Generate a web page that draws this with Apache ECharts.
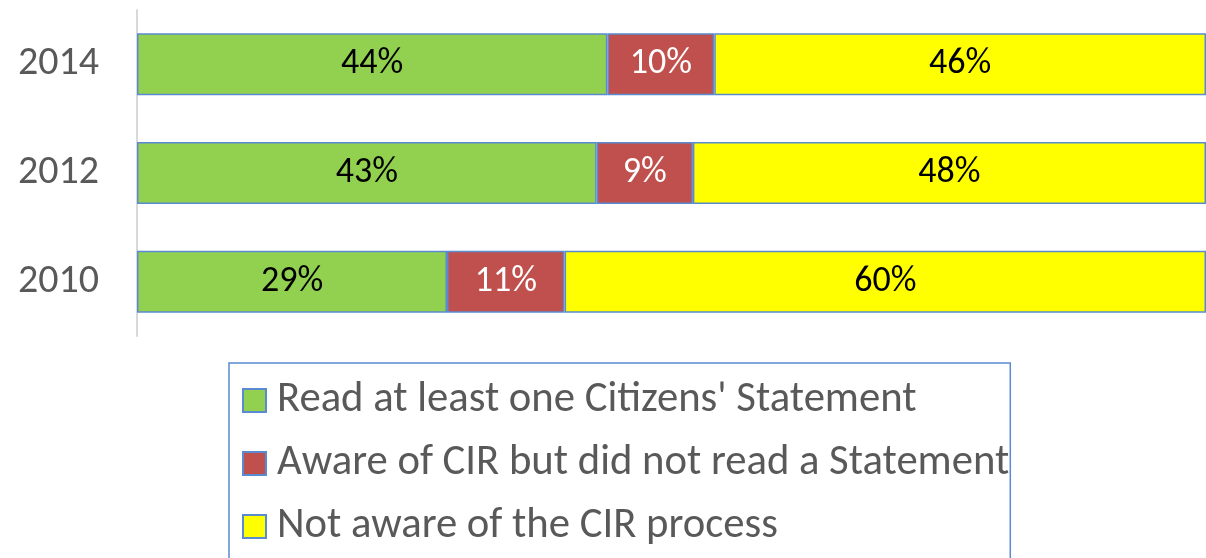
<!DOCTYPE html>
<html>
<head>
<meta charset="utf-8">
<script src="https://cdn.jsdelivr.net/npm/echarts@6/dist/echarts.min.js"></script>
<style>
  html, body { margin: 0; padding: 0; background: #fff; }
  #chart { width: 1206px; height: 558px; }
</style>
</head>
<body>
<div id="chart"></div>
<script>
// 年份和三组百分比
var years = ['2010', '2012', '2014'];
var readStatement = [29, 43, 44];
var awareNotRead = [11, 9, 10];
var notAware = [60, 48, 46];
var seriesNames = [
  "Read at least one Citizens' Statement",
  'Aware of CIR but did not read a Statement',
  'Not aware of the CIR process'
];
var colors = ['#92d050', '#c0504d', '#ffff00'];
var labelColors = ['#000', '#fff', '#000'];
var FONT = 'Carlito, "Open Sans", sans-serif';

function makeSeries(idx, data) {
  return {
    name: seriesNames[idx],
    type: 'bar',
    stack: 'total',
    barWidth: '57%',
    data: data,
    itemStyle: { color: colors[idx], borderColor: '#5a8ad0', borderWidth: 1.5 },
    label: {
      show: true,
      position: 'inside',
      formatter: '{c}%',
      color: labelColors[idx],
      fontSize: 36,
      fontFamily: FONT
    }
  };
}

function initChart() {
  var chart = echarts.init(document.getElementById('chart'));
  var option = {
    animation: false,
    grid: { left: 137, top: 10, width: 1078, height: 326 },
    xAxis: {
      type: 'value', min: 0, max: 100,
      show: false
    },
    yAxis: {
      type: 'category',
      data: years,
      axisLine: { show: true, lineStyle: { color: '#d9d9d9', width: 2 } },
      axisTick: { show: false },
      axisLabel: { color: '#595959', fontSize: 40, fontFamily: FONT, margin: 38 }
    },
    legend: {
      orient: 'vertical',
      left: 229,
      top: 363,
      height: 400,
      padding: [15, 1, 60, 13],
      borderColor: '#5a8ad0',
      borderWidth: 1.5,
      itemWidth: 23,
      itemHeight: 23,
      itemGap: 18,
      icon: 'rect',
      textStyle: { color: '#595959', fontSize: 42.7, lineHeight: 45, fontFamily: FONT, padding: [0, 0, 0, 6] },
      data: seriesNames
    },
    series: [
      makeSeries(0, readStatement),
      makeSeries(1, awareNotRead),
      makeSeries(2, notAware)
    ]
  };
  chart.setOption(option);
}

initChart();
</script>
</body>
</html>
